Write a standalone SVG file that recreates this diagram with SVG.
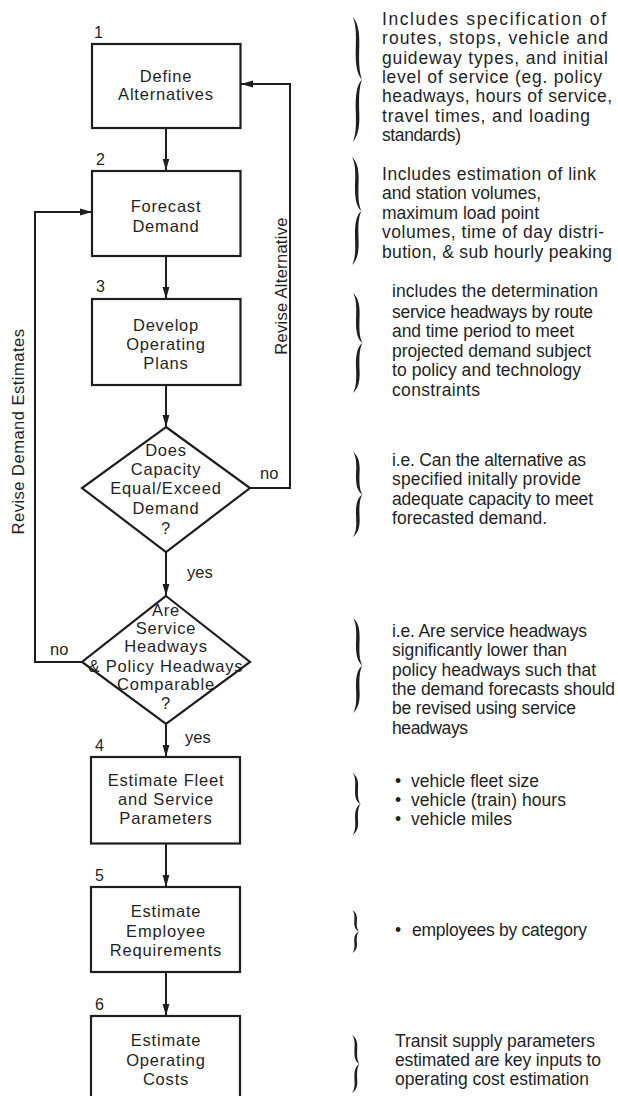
<svg xmlns="http://www.w3.org/2000/svg" xmlns:xlink="http://www.w3.org/1999/xlink" width="618" height="1096" viewBox="0 0 618 1096">
<style>
text{font-family:"Liberation Sans",Arial,Helvetica,sans-serif;fill:#1f1f1f;font-size:16.5px}
.t{text-anchor:middle;letter-spacing:0.8px}
.n{font-size:16px}
.d{font-size:17.5px}
.box{fill:#fff;stroke:#1e1e1e;stroke-width:2.2}
.con{fill:none;stroke:#1e1e1e;stroke-width:2}
.br{fill:#1e1e1e}
</style>
<defs>
<marker id="ah" viewBox="0 0 12 8" refX="12" refY="4" markerWidth="12" markerHeight="8" markerUnits="userSpaceOnUse" orient="auto">
<path d="M0,0.6 L12,4 L0,7.4 z" fill="#1e1e1e"/>
</marker>
<path id="brace" d="M0,0 C4.5,4 7,10 6.6,22 C6.2,34 6,44 9.5,50 C3.6,46 2.6,36 3.1,24 C3.6,12 3,5 0,0 Z M9.5,50 C6,56 6.2,66 6.6,78 C7,90 4.5,96 0,100 C3,95 3.6,88 3.1,76 C2.6,64 3.6,54 9.5,50 Z"/>
</defs>
<rect width="618" height="1096" fill="#fff"/>

<g id="connectors">
<path class="con" d="M166,128 L166,170.5" marker-end="url(#ah)"/>
<path class="con" d="M166,256 L166,299" marker-end="url(#ah)"/>
<path class="con" d="M166,385 L166,427" marker-end="url(#ah)"/>
<path class="con" d="M166,552 L166,596" marker-end="url(#ah)"/>
<path class="con" d="M250,488 L290,488 L290,84 L241,84" marker-end="url(#ah)"/>
<path class="con" d="M82,662 L35,662 L35,212 L92,212" marker-end="url(#ah)"/>
<path class="con" d="M166,724 L166,757" marker-end="url(#ah)"/>
<path class="con" d="M166,843.5 L166,887" marker-end="url(#ah)"/>
<path class="con" d="M166,972 L166,1016" marker-end="url(#ah)"/>
<text x="260" y="479">no</text>
<text x="187" y="578">yes</text>
<text x="50" y="655">no</text>
<text x="185" y="743">yes</text>
<text class="t" style="letter-spacing:0.3px" transform="translate(286.5,286) rotate(-90)">Revise Alternative</text>
<text class="t" style="letter-spacing:0.5px" transform="translate(23.5,431.5) rotate(-90)">Revise Demand Estimates</text>
</g>

<g id="node1">
<rect class="box" x="92" y="44" width="148.5" height="84"/>
<text class="n" x="94" y="38">1</text>
<text class="t" x="166" y="81.5">Define</text>
<text class="t" x="166" y="100">Alternatives</text>
</g>
<g id="node2">
<rect class="box" x="92" y="171" width="148.5" height="85"/>
<text class="n" x="96" y="165">2</text>
<text class="t" x="166" y="212">Forecast</text>
<text class="t" x="166" y="231.5">Demand</text>
</g>
<g id="node3">
<rect class="box" x="92" y="299" width="148.5" height="86"/>
<text class="n" x="96" y="292">3</text>
<text class="t" x="166" y="330.5">Develop</text>
<text class="t" x="166" y="349.5">Operating</text>
<text class="t" x="166" y="369">Plans</text>
</g>
<g id="decision1">
<polygon class="box" points="166,427 250,488 166,552 82,488"/>
<text class="t" x="166" y="455.5">Does</text>
<text class="t" x="166" y="475">Capacity</text>
<text class="t" x="166" y="494">Equal/Exceed</text>
<text class="t" x="166" y="514">Demand</text>
<text class="t" x="166" y="534">?</text>
</g>
<g id="decision2">
<polygon class="box" points="166,596 250,662 166,724 82,662"/>
<text class="t" x="166" y="615.5">Are</text>
<text class="t" x="166" y="634">Service</text>
<text class="t" x="166" y="651.5">Headways</text>
<text class="t" x="166" y="671.5">&amp; Policy Headways</text>
<text class="t" x="166" y="689.5">Comparable</text>
<text class="t" x="166" y="709">?</text>
</g>
<g id="node4">
<rect class="box" x="91" y="757" width="149" height="86.5"/>
<text class="n" x="95" y="750.5">4</text>
<text class="t" x="166" y="785.5">Estimate Fleet</text>
<text class="t" x="166" y="805">and Service</text>
<text class="t" x="166" y="824">Parameters</text>
</g>
<g id="node5">
<rect class="box" x="91" y="887" width="149" height="85"/>
<text class="n" x="95" y="880.5">5</text>
<text class="t" x="166" y="917">Estimate</text>
<text class="t" x="166" y="937">Employee</text>
<text class="t" x="166" y="955.5">Requirements</text>
</g>
<g id="node6">
<rect class="box" x="91" y="1016" width="149" height="90"/>
<text class="n" x="95" y="1009.5">6</text>
<text class="t" x="166" y="1045.5">Estimate</text>
<text class="t" x="166" y="1065.5">Operating</text>
<text class="t" x="166" y="1085">Costs</text>
</g>

<g id="note1">
<use class="br" xlink:href="#brace" href="#brace" transform="translate(352.7,17) scale(1,1.25)"/>
<text class="d" lengthAdjust="spacing">
<tspan x="382" y="25" textLength="224">Includes specification of</tspan>
<tspan x="382" y="44.3" textLength="226">routes, stops, vehicle and</tspan>
<tspan x="382" y="63.6" textLength="226">guideway types, and initial</tspan>
<tspan x="382" y="82.9" textLength="220">level of service (eg. policy</tspan>
<tspan x="382" y="102.2" textLength="230">headways, hours of service,</tspan>
<tspan x="382" y="121.5" textLength="208">travel times, and loading</tspan>
<tspan x="382" y="140.8" textLength="79">standards)</tspan>
</text>
</g>
<g id="note2">
<use class="br" xlink:href="#brace" href="#brace" transform="translate(352,157) scale(1,1.08)"/>
<text class="d" lengthAdjust="spacing">
<tspan x="382" y="180" textLength="214">Includes estimation of link</tspan>
<tspan x="382" y="199.4" textLength="159">and station volumes,</tspan>
<tspan x="382" y="218.8" textLength="157">maximum load point</tspan>
<tspan x="382" y="238.2" textLength="222">volumes, time of day distri-</tspan>
<tspan x="382" y="257.6" textLength="230">bution, &amp; sub hourly peaking</tspan>
</text>
</g>
<g id="note3">
<use class="br" xlink:href="#brace" href="#brace" transform="translate(353,293) scale(1,1.0)"/>
<text class="d" lengthAdjust="spacing">
<tspan x="392" y="297" textLength="206">includes the determination</tspan>
<tspan x="392" y="317.5" textLength="201">service headways by route</tspan>
<tspan x="392" y="337" textLength="182">and time period to meet</tspan>
<tspan x="392" y="356.5" textLength="199">projected demand subject</tspan>
<tspan x="392" y="376" textLength="189">to policy and technology</tspan>
<tspan x="392" y="395.5" textLength="88">constraints</tspan>
</text>
</g>
<g id="note4">
<use class="br" xlink:href="#brace" href="#brace" transform="translate(353,452) scale(1,0.85)"/>
<text class="d" lengthAdjust="spacing">
<tspan x="392" y="466" textLength="194">i.e. Can the alternative as</tspan>
<tspan x="392" y="485.3" textLength="189">specified initally provide</tspan>
<tspan x="392" y="504.6" textLength="201">adequate capacity to meet</tspan>
<tspan x="392" y="523.9" textLength="155">forecasted demand.</tspan>
</text>
</g>
<g id="note5">
<use class="br" xlink:href="#brace" href="#brace" transform="translate(353,618) scale(1,0.95)"/>
<text class="d" lengthAdjust="spacing">
<tspan x="392" y="637" textLength="195">i.e. Are service headways</tspan>
<tspan x="392" y="656.3" textLength="175">significantly lower than</tspan>
<tspan x="392" y="675.6" textLength="204">policy headways such that</tspan>
<tspan x="392" y="694.9" textLength="223">the demand forecasts should</tspan>
<tspan x="392" y="714.2" textLength="184">be revised using service</tspan>
<tspan x="392" y="733.5" textLength="76">headways</tspan>
</text>
</g>
<g id="note6">
<use class="br" xlink:href="#brace" href="#brace" transform="translate(352.5,773) scale(0.85,0.62)"/>
<text class="d"><tspan x="395" y="787">•</tspan><tspan x="411" y="787" textLength="128" lengthAdjust="spacing">vehicle fleet size</tspan></text>
<text class="d"><tspan x="395" y="806">•</tspan><tspan x="411" y="806" textLength="155" lengthAdjust="spacing">vehicle (train) hours</tspan></text>
<text class="d"><tspan x="395" y="825">•</tspan><tspan x="411" y="825" textLength="101" lengthAdjust="spacing">vehicle miles</tspan></text>
</g>
<g id="note7">
<use class="br" xlink:href="#brace" href="#brace" transform="translate(352,910) scale(0.75,0.43)"/>
<text class="d"><tspan x="395" y="935.5">•</tspan><tspan x="412" y="935.5" textLength="175" lengthAdjust="spacing">employees by category</tspan></text>
</g>
<g id="note8">
<use class="br" xlink:href="#brace" href="#brace" transform="translate(352,1035) scale(0.8,0.58)"/>
<text class="d" lengthAdjust="spacing">
<tspan x="395" y="1047" textLength="200">Transit supply parameters</tspan>
<tspan x="395" y="1066" textLength="206">estimated are key inputs to</tspan>
<tspan x="395" y="1085.3" textLength="194">operating cost estimation</tspan>
</text>
</g>
</svg>
